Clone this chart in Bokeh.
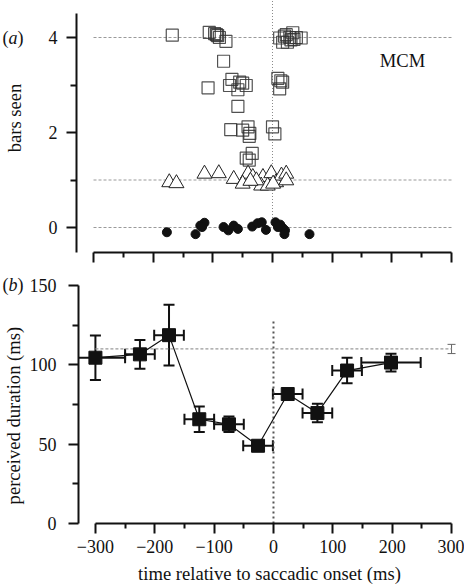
import math
from bokeh.plotting import figure
from bokeh.layouts import column, row
from bokeh.models import (ColumnDataSource, Whisker, TeeHead, Label, FixedTicker,
                          CustomJSTickFormatter, Range1d)
from bokeh.core.properties import value
from bokeh.embed import file_html
from bokeh.resources import INLINE

# ---------------- data: panel (a) ----------------
sq_x = [-168, -106, -97, -92, -89, -78, -94, -82, -108, -68, -72, -58, -50, -44, -55,
        -58, -70, -50, -41, -38, -39, -44, -34, -39, 0, 4, 12, 17, 23, 29, 34, 40, 48,
        25, 31, 14, 17, 12, 9, 20, 36]
sq_y = [4.05, 4.11, 4.08, 4.04, 4.00, 3.92, 4.06, 3.50, 2.94, 3.12, 2.99, 2.90, 3.04, 2.99, 3.06,
        2.55, 2.06, 2.05, 2.12, 1.98, 1.92, 1.46, 1.56, 1.42, 2.12, 1.97, 3.99, 3.90, 4.06, 4.00,
        4.10, 4.00, 3.99, 3.90, 3.95, 3.09, 3.06, 2.92, 3.14, 4.03, 3.96]
tri_x = [-173, -161, -114, -90, -65, -47, -41, -33, -16, -2, 6, 15, 23, 23, -19, -8, -50, -27, 1, -37]
tri_y = [0.95, 0.93, 1.13, 1.14, 1.02, 0.99, 1.13, 1.06, 1.06, 1.14, 0.95, 1.09, 1.13, 0.99,
         0.88, 0.88, 0.92, 0.99, 0.92, 0.98]
circ_x = [-177, -129, -121, -114, -118, -82, -74, -65, -58, -34, -25, -18, -11, 5, 13, 17, 21, 20, 62, 9]
circ_y = [-0.10, -0.14, 0.04, 0.10, 0.01, 0.01, -0.06, 0.04, -0.03, 0.02, 0.09, 0.11, -0.05,
          0.11, 0.06, -0.01, -0.06, -0.14, -0.14, 0.01]
a_ref_levels = [0, 1, 4]
a_onset_span = [0.2, 5.0]

# ---------------- data: panel (b) ----------------
time_bins = [-300, -225, -176, -125, -75, -26, 24, 74, 124, 198]
duration = [104.5, 106.6, 118.7, 65.7, 62.5, 49.0, 81.6, 69.6, 96.4, 101.4]
time_err = [50, 25, 25, 25, 25, 25, 25, 25, 25, 50]
dur_err = [14.0, 9.1, 19.1, 8.0, 4.9, 3.0, 2.0, 5.8, 8.0, 5.6]
baseline_x = [300]
baseline_dur = [110]
baseline_err = [2.9]
b_onset_span = [0, 129]

x_ticks = [-300, -200, -100, 0, 100, 200, 300]
x_minor = [-250, -150, -50, 50, 150, 250]
a_ticks = [0, 2, 4]
a_minor = [1, 3]
b_ticks = [0, 50, 100, 150]
b_minor = [25, 75, 125]

FONT = "Liberation Serif"
FS = "18px"
LFS = "18.6px"
INK = "#111111"

x_rng = Range1d(-328.5, 315.1)
ya_rng = Range1d(-0.5263, 4.779)
yb_rng = Range1d(0, 158.19)


def style(p):
    p.xgrid.visible = False
    p.ygrid.visible = False
    p.outline_line_color = None
    p.background_fill_color = "white"
    p.border_fill_color = "white"
    for ax in p.axis:
        ax.axis_line_width = 2
        ax.axis_line_color = INK
        ax.major_tick_line_width = 2
        ax.minor_tick_line_width = 2
        ax.major_tick_line_color = INK
        ax.minor_tick_line_color = INK
        ax.major_tick_in = 0
        ax.minor_tick_in = 0
        ax.major_tick_out = 10
        ax.minor_tick_out = 6
        ax.major_label_text_font = FONT
        ax.major_label_text_font_size = FS
        ax.major_label_text_color = INK
        ax.axis_label_text_font = FONT
        ax.axis_label_text_font_size = LFS
        ax.axis_label_text_font_style = "normal"
        ax.axis_label_text_color = INK


def side_panel(height, y_rng, bottom_border):
    s = figure(width=26, height=height, output_backend="svg", toolbar_location=None,
               x_range=Range1d(0, 26), y_range=y_rng, x_axis_type=None, y_axis_type=None,
               min_border_left=0, min_border_right=0, min_border_top=0,
               min_border_bottom=bottom_border)
    s.xgrid.visible = False
    s.ygrid.visible = False
    s.outline_line_color = None
    return s


def tag(s, letter, y):
    s.text(x=[2], y=[y], text=["("], text_font=value(FONT), text_font_size=FS,
           text_color=INK, text_align="left", text_baseline="middle")
    s.text(x=[8], y=[y], text=[letter], text_font=value(FONT), text_font_size=FS,
           text_font_style="italic", text_color=INK, text_align="left", text_baseline="middle")
    s.text(x=[17], y=[y], text=[")"], text_font=value(FONT), text_font_size=FS,
           text_color=INK, text_align="left", text_baseline="middle")


# ---------------- panel (a) ----------------
top = figure(width=438, height=272, output_backend="svg", toolbar_location=None,
             x_range=x_rng, y_range=ya_rng,
             min_border_left=50, min_border_right=4, min_border_top=0, min_border_bottom=20)
style(top)
top.xaxis.ticker = FixedTicker(ticks=x_ticks, minor_ticks=x_minor)
top.xaxis.bounds = (-300, 300)
top.xaxis.minor_tick_out = 5
top.xaxis.formatter = CustomJSTickFormatter(code="return '';")
top.xaxis.major_label_text_font_size = "0px"
top.xaxis.major_label_standoff = 0
top.yaxis.ticker = FixedTicker(ticks=a_ticks, minor_ticks=a_minor)
top.yaxis.bounds = (-0.5263, 4.5)
top.yaxis.major_label_standoff = 9

for lvl in a_ref_levels:
    top.line([x_ticks[0], x_ticks[-1]], [lvl, lvl], line_color="#9a9a9a", line_width=1.2,
             line_dash="3 2")
top.line([0, 0], a_onset_span, line_color="#8a8a8a", line_width=1, line_dash="1 2")

top.scatter(sq_x, sq_y, marker="square", size=12, fill_color=None, line_color="#333333",
            line_width=1.2, line_alpha=0.85)
top.scatter(tri_x, tri_y, marker="triangle", size=15, fill_color="white", line_color="#222222",
            line_width=1)
top.scatter(circ_x, circ_y, marker="circle", size=9, fill_color=INK, line_color=INK)

top.add_layout(Label(x=218, y=3.52, text="MCM", text_font=FONT, text_font_size=LFS,
                     text_color=INK, text_align="center", text_baseline="middle"))

side_a = side_panel(272, ya_rng, 20)
tag(side_a, "a", 4)
side_a.text(x=[14], y=[2.305], text=["bars seen"], angle=math.pi / 2, text_font=value(FONT),
            text_font_size=LFS, text_color=INK, text_align="center", text_baseline="middle")

# ---------------- panel (b) ----------------
bot = figure(width=438, height=316, output_backend="svg", toolbar_location=None,
             x_range=x_rng, y_range=yb_rng,
             min_border_left=50, min_border_right=4, min_border_top=0, min_border_bottom=65)
style(bot)
bot.xaxis.ticker = FixedTicker(ticks=x_ticks, minor_ticks=x_minor)
bot.xaxis.bounds = (-300, 300)
bot.xaxis.minor_tick_out = 5
bot.xaxis.formatter = CustomJSTickFormatter(
    code="return tick < 0 ? '\u2212' + Math.abs(tick) : String(tick);")
bot.xaxis.major_label_standoff = 6
bot.xaxis.axis_label = "time relative to saccadic onset (ms)"
bot.xaxis.axis_label_standoff = 7
bot.yaxis.ticker = FixedTicker(ticks=b_ticks, minor_ticks=b_minor)
bot.yaxis.bounds = (0, 150)
bot.yaxis.major_label_standoff = 12

bot.line([x_ticks[0], x_ticks[-1]], [baseline_dur[0], baseline_dur[0]], line_color="#9a9a9a",
         line_width=1.2, line_dash="3 2")
bot.line([0, 0], b_onset_span, line_color="#555555", line_width=2, line_dash="2 3")

src = ColumnDataSource(dict(
    t=time_bins, d=duration,
    tl=[t - e for t, e in zip(time_bins, time_err)],
    tu=[t + e for t, e in zip(time_bins, time_err)],
    dl=[d - e for d, e in zip(duration, dur_err)],
    du=[d + e for d, e in zip(duration, dur_err)],
))


def tee(sz, lw, col):
    return TeeHead(size=sz, line_width=lw, line_color=col)


bot.add_layout(Whisker(source=src, base="t", lower="dl", upper="du", dimension="height",
                       line_width=2, line_color=INK, upper_head=tee(11, 2, INK),
                       lower_head=tee(11, 2, INK), level="underlay"))
bot.add_layout(Whisker(source=src, base="d", lower="tl", upper="tu", dimension="width",
                       line_width=2, line_color=INK, upper_head=tee(11, 2, INK),
                       lower_head=tee(11, 2, INK), level="underlay"))

ref_src = ColumnDataSource(dict(
    x=baseline_x,
    lo=[v - e for v, e in zip(baseline_dur, baseline_err)],
    hi=[v + e for v, e in zip(baseline_dur, baseline_err)],
))
bot.add_layout(Whisker(source=ref_src, base="x", lower="lo", upper="hi", dimension="height",
                       line_width=1, line_color="#666666",
                       upper_head=tee(8, 1, "#666666"), lower_head=tee(8, 1, "#666666")))

bot.line(time_bins, duration, line_color=INK, line_width=1.2)
bot.scatter(time_bins, duration, marker="square", size=13, fill_color=INK, line_color=INK)

side_b = side_panel(316, yb_rng, 65)
tag(side_b, "b", 150)
side_b.text(x=[13], y=[68], text=["perceived duration (ms)"], angle=math.pi / 2,
            text_font=value(FONT), text_font_size=LFS, text_color=INK,
            text_align="center", text_baseline="middle")

layout = column(row(side_a, top, spacing=0), row(side_b, bot, spacing=0), spacing=0)
open("out.html", "w").write(file_html(layout, INLINE))
